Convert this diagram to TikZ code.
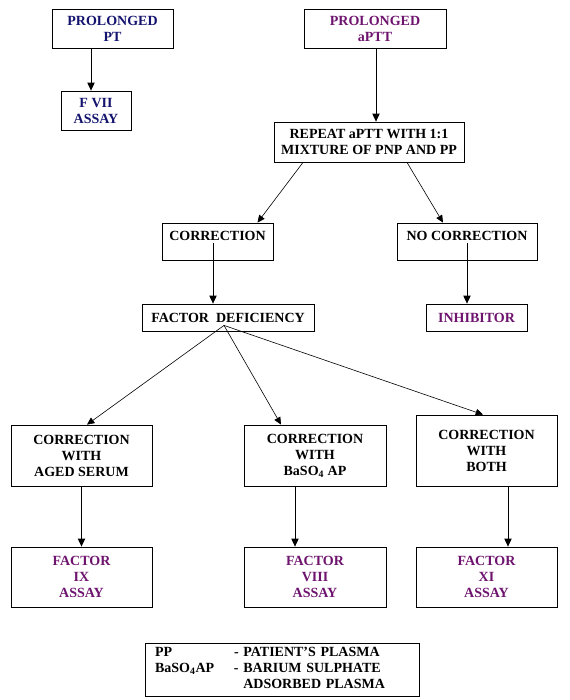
\documentclass[tikz,border=0pt]{standalone}
\usepackage{fontspec}
\setmainfont{Liberation Serif}
\usetikzlibrary{positioning, arrows.meta, calc}
\definecolor{navy}{RGB}{20,20,110}
\definecolor{plum}{RGB}{110,20,110}

\begin{document}
\begin{tikzpicture}[
    x=0.75pt, y=-0.75pt,
    box/.style={rectangle, draw, line width=0.6pt, inner sep=0pt, align=center, font=\fontsize{10.5}{12}\selectfont\bfseries},
    sz/.style 2 args={minimum width=#1*0.75pt, minimum height=#2*0.75pt},
    uptext/.style={text height=7pt, text depth=8pt},
    arrow/.style={-{Triangle[length=6pt,width=5.5pt]}, line width=0.6pt},
    fan/.style={-{Triangle[length=5.5pt,width=5pt]}, line width=0.45pt}
]
\useasboundingbox (0,0) rectangle (569,700);

% Boxes of the flow chart
\node[box, sz={121}{39}, text=navy] (pt) at (112.5,28.5) {PROLONGED\\PT};
\node[box, sz={70}{39}, text=navy] (f7) at (96,110.5) {F VII\\ASSAY};
\node[box, sz={142}{39}, text=plum] (aptt) at (375,28.5) {PROLONGED\\aPTT};
\node[box, sz={190}{40}] (repeat) at (369,142) {REPEAT aPTT WITH 1:1\\MIXTURE OF PNP AND PP};
\node[box, sz={111}{37}, uptext] (corr) at (217.5,241.5) {CORRECTION};
\node[box, sz={140}{37}, uptext] (nocorr) at (467,241.5) {NO CORRECTION};
\node[box, sz={172}{27}] (fd) at (228,317.5) {FACTOR\ \ DEFICIENCY};
\node[box, sz={101}{27}, text=plum] (inhib) at (476.5,317.5) {INHIBITOR};
\node[box, sz={141}{61}] (aged) at (81.5,455.5) {CORRECTION\\WITH\\AGED SERUM};
\node[box, sz={142}{61}] (baso) at (315,455.5) {CORRECTION\\WITH\\BaSO\textsubscript{4} AP};
\node[box, sz={141}{71}] (both) at (486.5,450.5) {CORRECTION\\WITH\\BOTH};
\node[box, sz={141}{60}, text=plum] (f9) at (81.5,577) {FACTOR\\IX\\ASSAY};
\node[box, sz={142}{60}, text=plum] (f8) at (315,577) {FACTOR\\VIII\\ASSAY};
\node[box, sz={141}{60}, text=plum] (f11) at (486.5,577) {FACTOR\\XI\\ASSAY};

% Legend
\node[box, sz={274}{53}, text width=254*0.75pt, align=left] (legend) at (282,669.5) {%
  \begin{tabular}{@{}p{59.25pt}@{}l@{}}
    PP & - PATIENT’S PLASMA\\
    BaSO\textsubscript{4}AP & - BARIUM SULPHATE\\
    & \phantom{- }ADSORBED PLASMA
  \end{tabular}};

% Connector ends inside boxes
\coordinate (corrfoot) at ($(corr.south)+(-4.5,-17)$);
\coordinate (nocorrfoot) at ($(nocorr.south)+(0,-17)$);
\coordinate (fdhub) at ($(fd.south)+(-4,-6)$);

% Arrows
\draw[arrow] ($(pt.south)+(-21.5,0)$) -- ($(f7.north)+(-5,0)$);
\draw[arrow] ($(aptt.south)+(1,0)$) -- ($(repeat.north)+(7,0)$);
\draw[fan] ($(repeat.south)+(-66,0)$) -- ($(corr.north)+(40,0)$);
\draw[fan] ($(repeat.south)+(38,0)$) -- ($(nocorr.north)+(-24,0)$);
\draw[arrow] (corrfoot) -- (corrfoot |- fd.north);
\draw[arrow] (nocorrfoot) -- (nocorrfoot |- inhib.north);
\draw[fan] (fdhub) -- ($(aged.north)+(5.5,0)$);
\draw[fan] (fdhub) -- ($(baso.north)+(-34,0)$);
\draw[fan] (fdhub) -- ($(both.north)+(-3.5,0)$);
\draw[arrow] (aged) -- (f9);
\draw[arrow] ($(baso.south)+(-20,0)$) -- ($(f8.north)+(-20,0)$);
\draw[arrow] ($(both.south)+(21.5,0)$) -- ($(f11.north)+(21.5,0)$);

\end{tikzpicture}
\end{document}
